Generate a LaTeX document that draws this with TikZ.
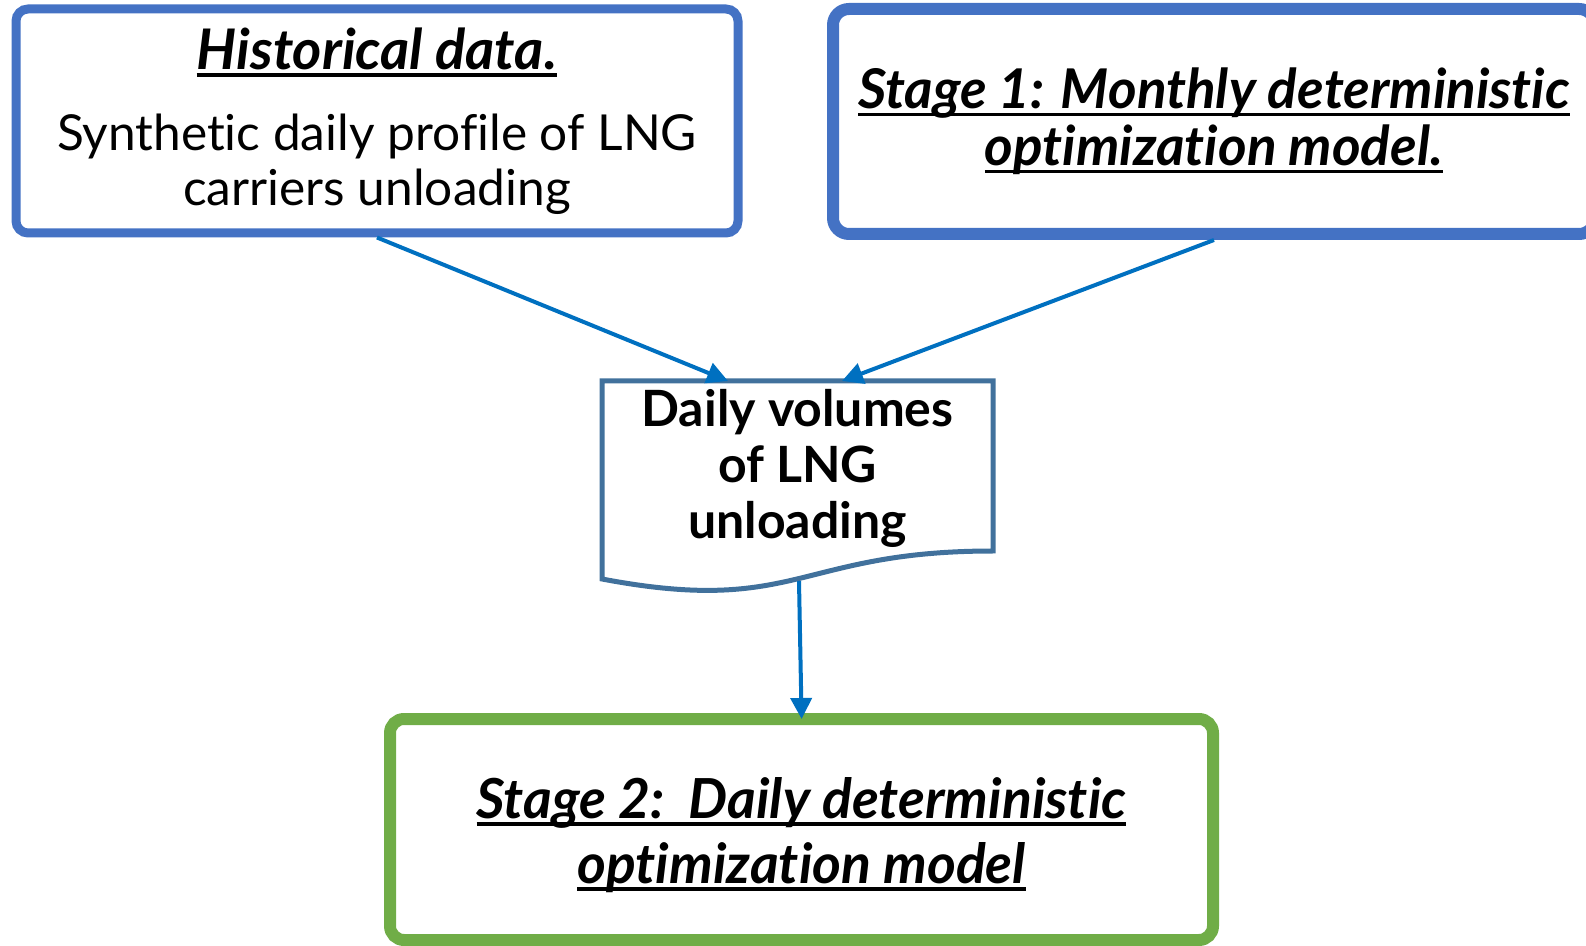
\documentclass[tikz,border=0pt]{standalone}
\usepackage{fontspec}
\setmainfont{Lato}[Ligatures=NoCommon]
\usetikzlibrary{arrows.meta}
\definecolor{boxblue}{HTML}{4472C4}
\definecolor{arrowblue}{HTML}{0070C0}
\definecolor{docblue}{HTML}{41719C}
\definecolor{stagegreen}{HTML}{70AD47}
% underline at a fixed depth, so descenders cross the rule
\newcommand\ulword[1]{\setbox0=\hbox{#1}\rlap{\rule[-0.13em]{\wd0}{0.06em}}\box0}
\tikzset{
  inbox/.style={draw=boxblue, rounded corners=6pt, line width=4.5pt, align=center, inner sep=0pt},
  modelbox/.style={draw=boxblue, rounded corners=8pt, line width=6pt, align=center, inner sep=0pt},
  stagebox/.style={draw=stagegreen, rounded corners=7pt, line width=6pt, align=center, inner sep=0pt},
  docline/.style={draw=docblue, line width=2.5pt, line join=miter},
  flow/.style={draw=arrowblue, line width=2pt, -{Triangle[length=10.5pt,width=10.5pt]}},
}
\begin{document}
\begin{tikzpicture}[x=0.5pt,y=-0.5pt]
\clip (0,0) rectangle (1586,946);
\useasboundingbox (0,0) rectangle (1586,946);

% input data box
\node[inbox, minimum width=361pt, minimum height=112pt,
      font=\fontsize{24.8}{27.5}\selectfont] (hist) at (377,121)
  {{\fontsize{28}{28}\selectfont\bfseries\itshape\ulword{Historical data.}}\\[13pt]
   Synthetic daily profile of LNG\\
   carriers unloading};

% first stage model box
\node[modelbox, minimum width=381pt, minimum height=112.5pt,
      font=\fontsize{27.4}{28.5}\selectfont\bfseries\itshape] (stage1) at (1214,121.5)
  {\ulword{Stage 1: Monthly deterministic}\\
   \ulword{optimization model.}};

% document-shaped intermediate result
\draw[docline] (602,381) -- (993,381) -- (993,551)
  .. controls (797.5,551) and (797.5,616) .. (602,579) -- cycle;
\node[align=center, inner sep=0pt, font=\fontsize{25}{28}\selectfont\bfseries]
  (doc) at (797.5,468) {Daily volumes\\of LNG\\unloading};
\coordinate (docinL) at (728,381);
\coordinate (docinR) at (842,381);
\coordinate (docout) at (799,581);

% second stage model box
\node[stagebox, minimum width=411.5pt, minimum height=110.5pt,
      font=\fontsize{27.6}{32.5}\selectfont\bfseries\itshape] (stage2) at (801.5,829.5)
  {\rule{0pt}{26pt}\ulword{Stage 2:\ \ Daily deterministic}\\
   \ulword{optimization model}};

% connectors
\draw[flow] (hist.south) -- (docinL);
\draw[flow] (stage1.south) -- (docinR);
\draw[flow, shorten >=-3pt] (docout) -- (stage2.north);
\end{tikzpicture}
\end{document}
